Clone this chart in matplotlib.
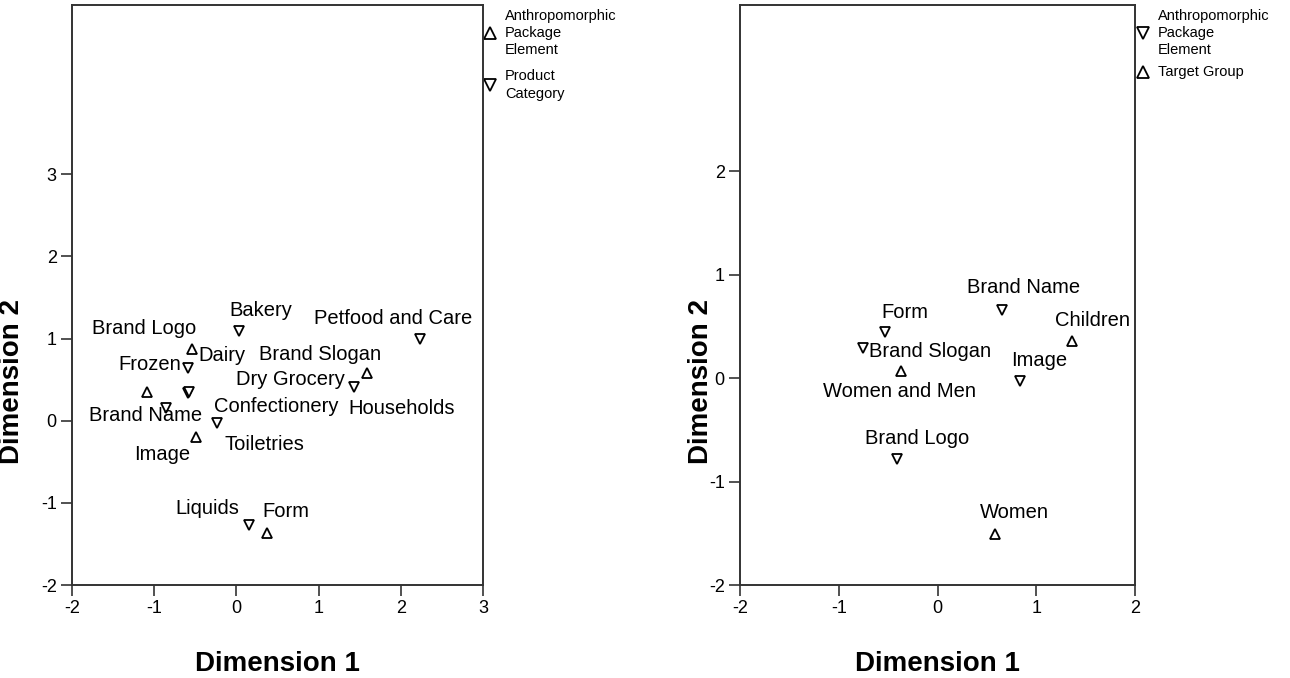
import matplotlib
matplotlib.use('Agg')
import matplotlib.pyplot as plt

plt.rcParams['font.family'] = ['Liberation Sans', 'DejaVu Sans']
plt.rcParams['axes.unicode_minus'] = False

# left panel: anthropomorphic package elements (up triangles) and product categories (down triangles)
left_elem_names = ['Brand Logo', 'Brand Name', 'Brand Slogan', 'Image', 'Form']
left_elem_x = [-0.544, -1.084, 1.585, -0.495, 0.376]
left_elem_y = [0.867, 0.352, 0.583, -0.196, -1.371]

left_cat_names = ['Bakery', 'Petfood and Care', 'Frozen', 'Dairy', 'Dry Grocery',
                  'Households', 'Confectionery', 'Toiletries', 'Liquids']
left_cat_x = [0.035, 2.234, -0.592, -0.592, 1.434, -0.575, -0.240, -0.856, 0.153]
left_cat_y = [1.094, 0.989, 0.636, 0.332, 0.412, 0.345, -0.033, 0.153, -1.270]

# right panel: anthropomorphic package elements (down) and target groups (up)
right_elem_names = ['Brand Name', 'Form', 'Brand Slogan', 'Image', 'Brand Logo']
right_elem_x = [0.650, -0.532, -0.758, 0.835, -0.413]
right_elem_y = [0.664, 0.447, 0.297, -0.029, -0.783]

right_grp_names = ['Children', 'Women and Men', 'Women']
right_grp_x = [1.359, -0.373, 0.582]
right_grp_y = [0.360, 0.071, -1.507]

# label offsets in pixels (dx, dy) from the point, as placed by the original chart
left_elem_off = [(-48, 21), (-2, -24), (-47, 18), (-34, -18), (19, 22)]
left_cat_off = [(22, 20), (-27, 21), (-38, 4), (34, 38), (-64, 7),
                (212, -16), (60, 17), (98, -36), (-42, 17)]
right_elem_off = [(22, 22), (20, 20), (67, -4), (19, 21), (20, 21)]
right_grp_off = [(21, 21), (-1, -21), (19, 22)]

W, H = 1290, 678
fig = plt.figure(figsize=(W / 100, H / 100), dpi=100)
ax1 = fig.add_axes([72 / W, 93 / H, 411 / W, 580 / H])
ax2 = fig.add_axes([740 / W, 93 / H, 395 / W, 580 / H])


def draw_points(ax, xs, ys, names, offs, marker):
    ax.plot(xs, ys, linestyle='none', marker=marker, markersize=7.5,
            markerfacecolor='white', markeredgecolor='black', markeredgewidth=1.3)
    for x, y, name, (dx, dy) in zip(xs, ys, names, offs):
        ax.annotate(name, (x, y), xytext=(dx, dy), textcoords='offset pixels',
                    ha='center', va='center', fontsize=14.5, color='black')


def style_axes(ax, xlim, ylim, xticks, yticks, ylab_x):
    ax.set_xlim(*xlim)
    ax.set_ylim(*ylim)
    ax.set_xticks(xticks)
    ax.set_yticks(yticks)
    for sp in ax.spines.values():
        sp.set_linewidth(1.4)
        sp.set_color('#333333')
    ax.tick_params(direction='out', length=8, width=1.2, color='#333333',
                   labelsize=13, pad=3)
    ax.set_xlabel('Dimension 1', fontsize=20, fontweight='bold')
    ax.set_ylabel('Dimension 2', fontsize=20, fontweight='bold')
    ax.xaxis.set_label_coords(0.5, -0.113)
    ax.yaxis.set_label_coords(ylab_x, 0.35)


def legend_item(ax, x, y, marker, text):
    ax.plot([x], [y], transform=ax.transAxes, clip_on=False, linestyle='none',
            marker=marker, markersize=8.5, markerfacecolor='white',
            markeredgecolor='black', markeredgewidth=1.3)
    ax.text(x + 0.037, y, text, transform=ax.transAxes, ha='left', va='center',
            fontsize=10.5, linespacing=1.3)


draw_points(ax1, left_elem_x, left_elem_y, left_elem_names, left_elem_off, '^')
draw_points(ax1, left_cat_x, left_cat_y, left_cat_names, left_cat_off, 'v')
style_axes(ax1, (-2, 3), (-2, 5.06), [-2, -1, 0, 1, 2, 3], [-2, -1, 0, 1, 2, 3], -0.114)
legend_item(ax1, 1.017, 0.952, '^', 'Anthropomorphic\nPackage\nElement')
legend_item(ax1, 1.017, 0.862, 'v', 'Product\nCategory')

draw_points(ax2, right_elem_x, right_elem_y, right_elem_names, right_elem_off, 'v')
draw_points(ax2, right_grp_x, right_grp_y, right_grp_names, right_grp_off, '^')
style_axes(ax2, (-2, 2), (-2, 3.61), [-2, -1, 0, 1, 2], [-2, -1, 0, 1, 2], -0.066)
legend_item(ax2, 1.020, 0.952, 'v', 'Anthropomorphic\nPackage\nElement')
legend_item(ax2, 1.020, 0.884, '^', 'Target Group')

fig.savefig('out.png', dpi=100)
